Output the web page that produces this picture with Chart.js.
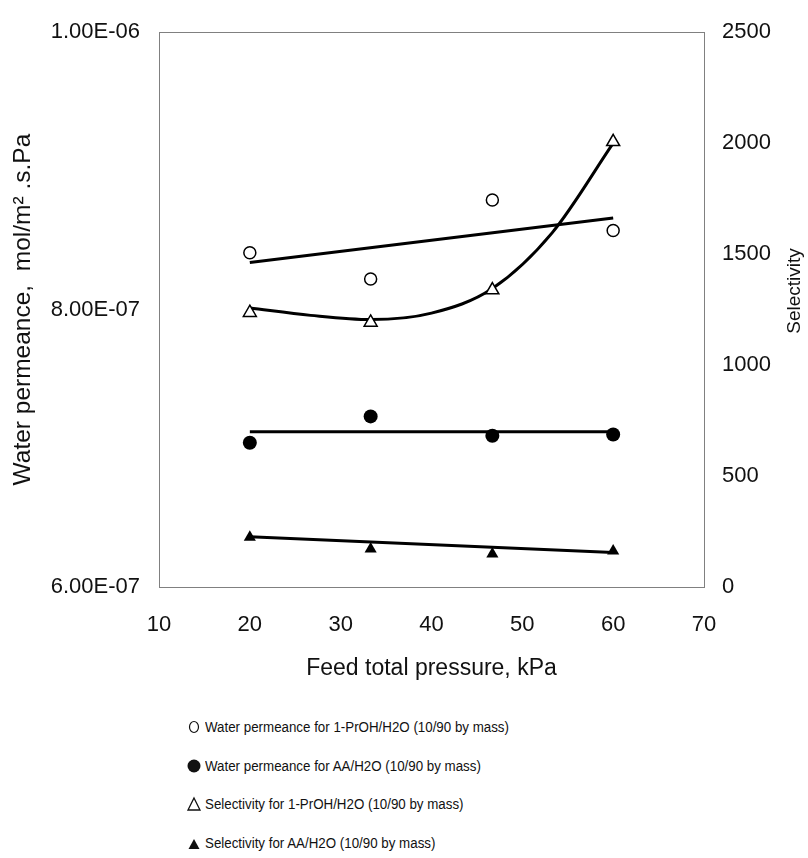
<!DOCTYPE html>
<html>
<head>
<meta charset="utf-8">
<title>Water permeance and selectivity vs feed total pressure</title>
<script src="https://cdn.jsdelivr.net/npm/chart.js@4.4.1/dist/chart.umd.min.js"></script>
<style>
    body { margin: 0; background: #fff; }
    #wrap { position: relative; width: 808px; height: 858px; }
    #legend { position: absolute; left: 0; top: 0; font-family: 'Liberation Sans', Arial, sans-serif; font-size: 15.5px; color: #111; }
    #legend div { position: absolute; white-space: nowrap; line-height: 18px; }
    #legend svg { position: absolute; left: 0; top: 0; }
    #legend span { position: absolute; left: 19px; top: 0; transform: scaleX(0.86); transform-origin: 0 0; }
</style>
</head>
<body>
<div id="wrap">
    <canvas id="chart" width="808" height="700"></canvas>
    <div id="legend"></div>
</div>
<script>
// feed total pressure, kPa
const pressure = [20, 33.3, 46.7, 60];
// water permeance, mol/m2.s.Pa
const permPrOH = [8.41e-7, 8.22e-7, 8.79e-7, 8.57e-7];
const permAA = [7.04e-7, 7.23e-7, 7.09e-7, 7.10e-7];
// selectivity
const selPrOH = [1236, 1192, 1338, 2006];
const selAA = [224, 171, 149, 162];

// trend lines
const trendX = [20, 60];
const trendPermPrOH = [8.34e-7, 8.66e-7];
const trendPermAA = [7.12e-7, 7.12e-7];
const trendSelAA = [226, 155];
const curveX = [20, 26.7, 33.3, 40, 46.7, 53.3, 60];
const curveSelPrOH = [1257, 1224, 1205, 1234, 1345, 1597, 2000];

const xTicks = [10, 20, 30, 40, 50, 60, 70];

const legendItems = [
    { mark: '<ellipse cx="8" cy="9" rx="4.5" ry="5.5" fill="#fff" stroke="#111" stroke-width="1.2"/>', text: 'Water permeance for 1-PrOH/H2O (10/90 by mass)' },
    { mark: '<circle cx="8" cy="9" r="6.5" fill="#111"/>', text: 'Water permeance for AA/H2O (10/90 by mass)' },
    { mark: '<path d="M8 3 L14 15 L2 15 Z" fill="#fff" stroke="#111" stroke-width="1.3"/>', text: 'Selectivity for 1-PrOH/H2O (10/90 by mass)' },
    { mark: '<path d="M8 5 L13.5 15 L2.5 15 Z" fill="#111"/>', text: 'Selectivity for AA/H2O (10/90 by mass)' }
];

function pts(xs, ys) {
    return xs.map((x, i) => ({ x: x, y: ys[i] }));
}

function sci(v) {
    const parts = v.toExponential(2).split('e');
    const e = parseInt(parts[1], 10);
    return parts[0] + 'E' + (e < 0 ? '-' : '+') + String(Math.abs(e)).padStart(2, '0');
}

const font = "'Liberation Sans', Arial, sans-serif";

const frame = {
    id: 'frame',
    afterDraw(chart) {
        const a = chart.chartArea;
        const ctx = chart.ctx;
        ctx.save();
        ctx.strokeStyle = '#808080';
        ctx.lineWidth = 1;
        ctx.strokeRect(Math.round(a.left) + 0.5, Math.round(a.top) + 0.5, Math.round(a.right - a.left), Math.round(a.bottom - a.top));
        // right axis title, reading bottom to top
        ctx.translate(795, 291);
        ctx.rotate(-Math.PI / 2);
        ctx.font = '19px ' + font;
        ctx.fillStyle = '#111';
        ctx.textAlign = 'center';
        ctx.textBaseline = 'middle';
        ctx.fillText('Selectivity', 0, 0);
        ctx.restore();
    }
};

const base = { showLine: false, borderColor: '#000', pointBorderColor: '#000', pointHoverRadius: 0 };
const line = { showLine: true, borderColor: '#000', borderWidth: 3, pointRadius: 0, pointHoverRadius: 0, fill: false };

new Chart(document.getElementById('chart'), {
    type: 'scatter',
    data: {
        datasets: [
            Object.assign({}, base, { label: 'perm PrOH', data: pts(pressure, permPrOH), yAxisID: 'y', pointStyle: 'circle', pointRadius: 6, pointBackgroundColor: '#fff', pointBorderWidth: 1.5 }),
            Object.assign({}, base, { label: 'perm AA', data: pts(pressure, permAA), yAxisID: 'y', pointStyle: 'circle', pointRadius: 7, pointBackgroundColor: '#000', pointBorderWidth: 0 }),
            Object.assign({}, base, { label: 'sel PrOH', data: pts(pressure, selPrOH), yAxisID: 'y1', pointStyle: 'triangle', pointRadius: 7.5, pointBackgroundColor: '#fff', pointBorderWidth: 1.5 }),
            Object.assign({}, base, { label: 'sel AA', data: pts(pressure, selAA), yAxisID: 'y1', pointStyle: 'triangle', pointRadius: 7, pointBackgroundColor: '#000', pointBorderWidth: 0 }),
            Object.assign({}, line, { label: 'trend perm PrOH', data: pts(trendX, trendPermPrOH), yAxisID: 'y' }),
            Object.assign({}, line, { label: 'trend perm AA', data: pts(trendX, trendPermAA), yAxisID: 'y' }),
            Object.assign({}, line, { label: 'trend sel PrOH', data: pts(curveX, curveSelPrOH), yAxisID: 'y1', cubicInterpolationMode: 'monotone' }),
            Object.assign({}, line, { label: 'trend sel AA', data: pts(trendX, trendSelAA), yAxisID: 'y1' })
        ]
    },
    options: {
        responsive: false,
        animation: false,
        layout: { padding: { top: 22, left: 0, right: 0, bottom: 0 } },
        plugins: { legend: { display: false }, tooltip: { enabled: false } },
        scales: {
            x: {
                type: 'linear',
                min: 10,
                max: 70,
                afterBuildTicks: s => { s.ticks = xTicks.map(v => ({ value: v })); },
                afterFit: s => { s.height = 113; },
                grid: { display: false, drawTicks: false },
                border: { display: false },
                ticks: { padding: 25, color: '#111', font: { family: font, size: 22 } },
                title: { display: true, text: 'Feed total pressure, kPa', color: '#111', font: { family: font, size: 23 }, padding: { top: 0, bottom: 18 } }
            },
            y: {
                position: 'left',
                min: 6e-7,
                max: 1e-6,
                ticks: { stepSize: 2e-7, padding: 19, color: '#111', font: { family: font, size: 22 }, callback: v => sci(v) },
                afterFit: s => { s.width = 159; },
                grid: { display: false, drawTicks: false },
                border: { display: false },
                title: { display: true, text: 'Water permeance,  mol/m\u00B2 .s.Pa', color: '#111', font: { family: font, size: 24.5 }, padding: { top: 9, bottom: 0 } }
            },
            y1: {
                position: 'right',
                min: 0,
                max: 2500,
                ticks: { stepSize: 500, padding: 18, color: '#111', font: { family: font, size: 22 }, callback: v => String(v) },
                afterFit: s => { s.width = 104; },
                grid: { display: false, drawTicks: false },
                border: { display: false }
            }
        }
    },
    plugins: [frame]
});

const legend = document.getElementById('legend');
legendItems.forEach((item, i) => {
    const row = document.createElement('div');
    row.style.left = '186px';
    row.style.top = (718 + i * 38.7) + 'px';
    row.innerHTML = '<svg width="16" height="18" viewBox="0 0 16 18">' + item.mark + '</svg>';
    const txt = document.createElement('span');
    txt.textContent = item.text;
    row.appendChild(txt);
    legend.appendChild(row);
});
</script>
</body>
</html>
